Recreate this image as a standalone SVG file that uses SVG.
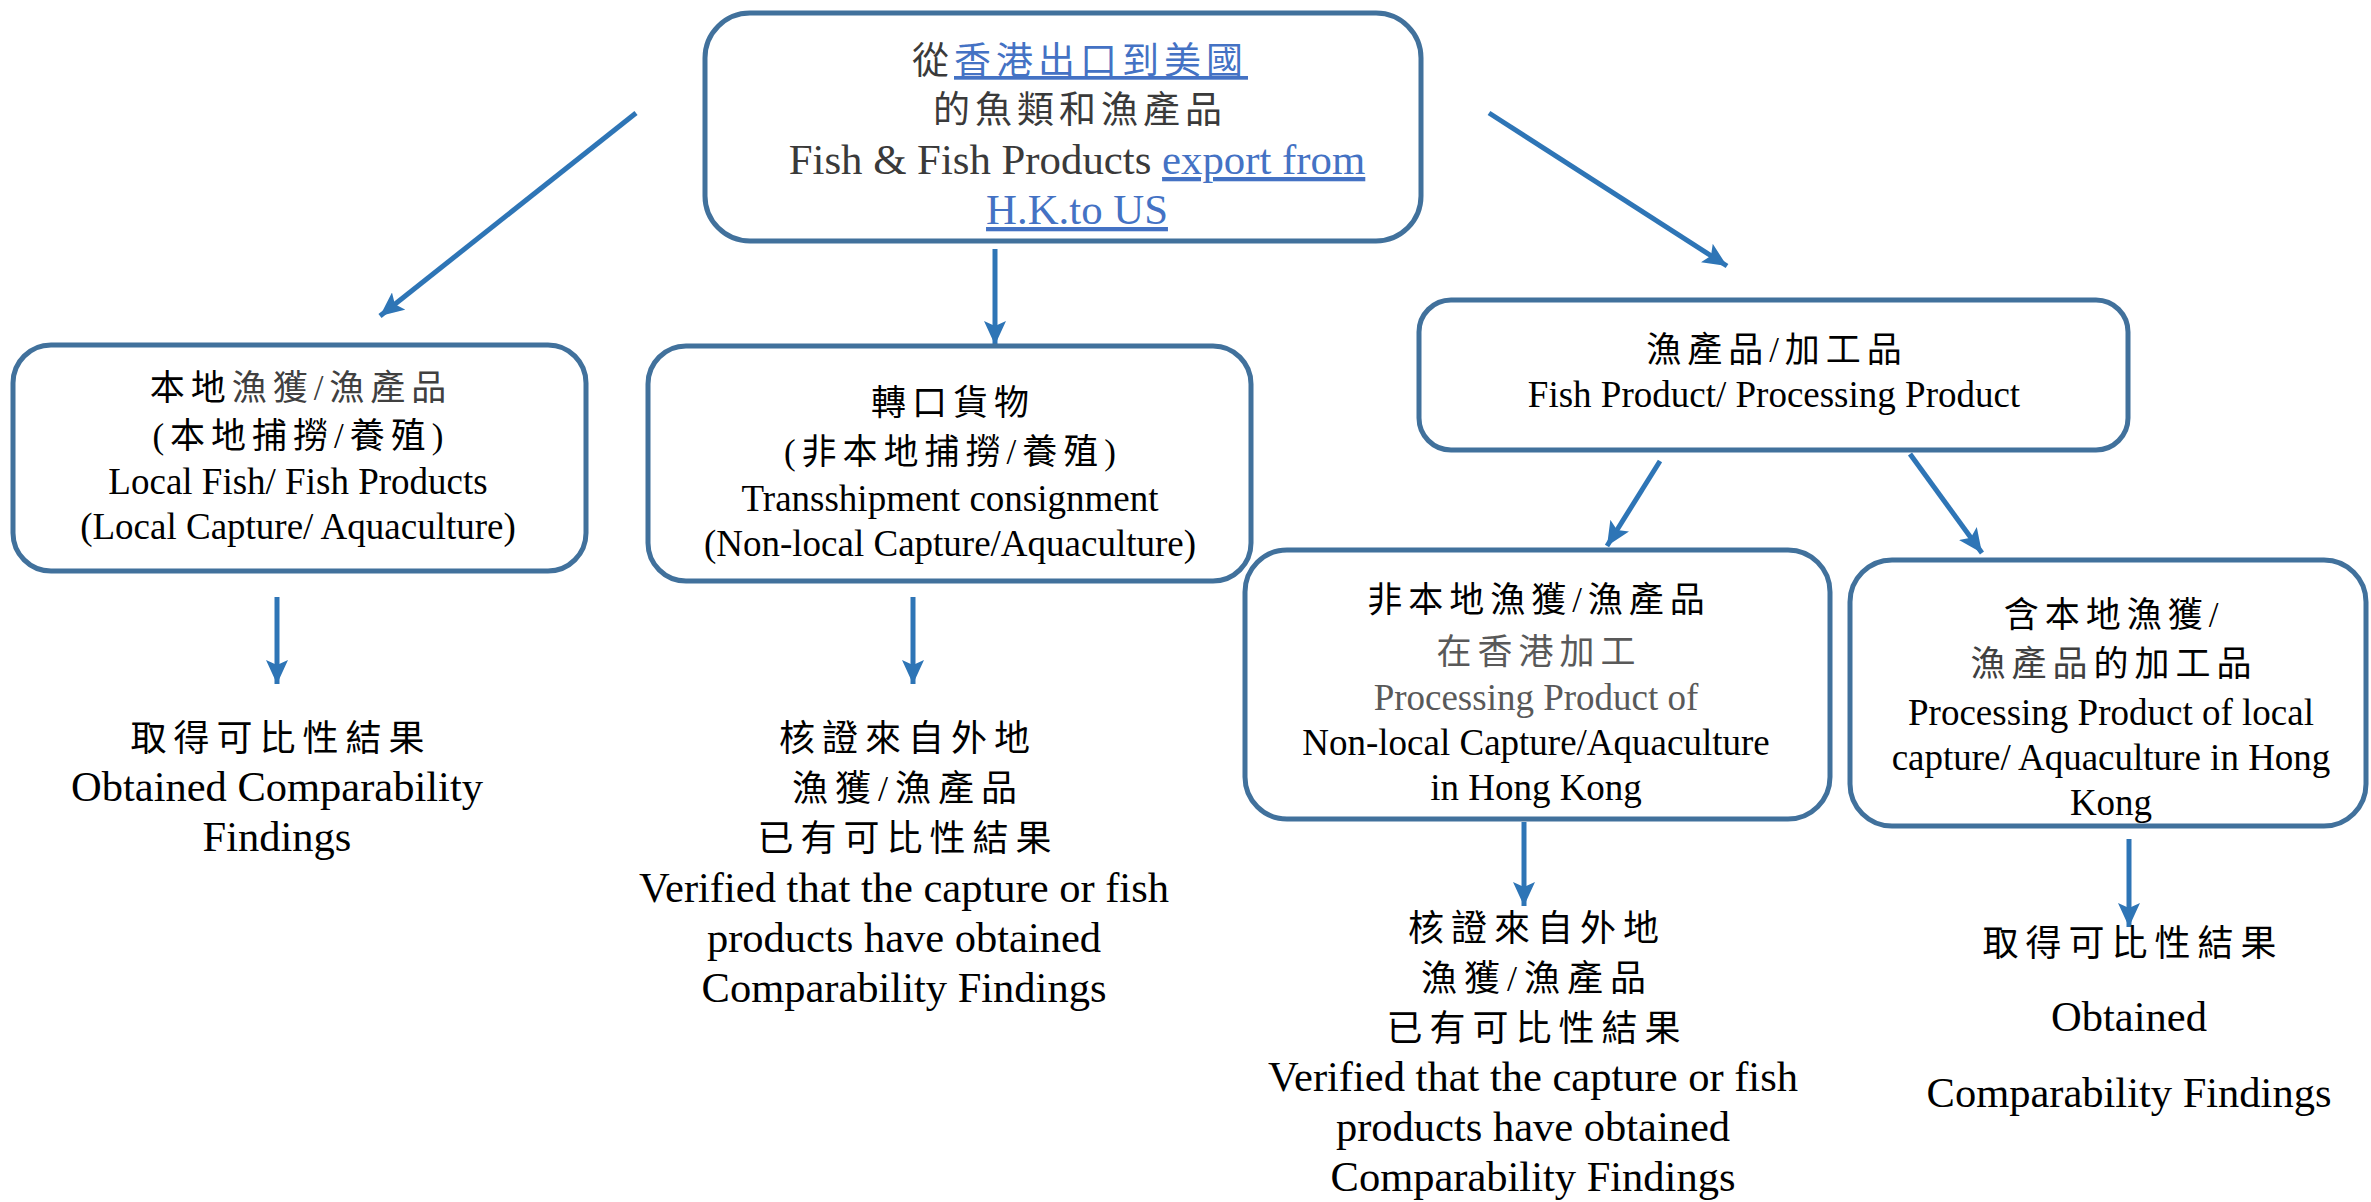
<svg xmlns="http://www.w3.org/2000/svg" width="2371" height="1202" viewBox="0 0 2371 1202">
<style>
.box{fill:#fff;stroke:#41719C;stroke-width:5}
.conn{stroke:#2E75B6;stroke-width:5;fill:none}
.t{font-family:"Liberation Serif","Noto Sans CJK TC","Times New Roman",serif;text-anchor:middle;fill:#000}
.cj{font-size:35px;letter-spacing:6px}
.en{font-size:37px}
.top{font-size:42.8px;fill:#3a3a3a}
.tcj{font-size:37px;letter-spacing:5px;fill:#3a3a3a}
.res{font-size:42.5px}
.rcj{font-size:36px;letter-spacing:7px}
.lnk{fill:#4472C4;text-decoration:underline}
.gr{fill:#595959}
</style>
<defs>
<marker id="ah" markerUnits="userSpaceOnUse" markerWidth="26" markerHeight="22" refX="24" refY="11" orient="auto">
<path d="M0,0 L24,11 L0,22 L5,11 Z" fill="#2E75B6"/>
</marker>
</defs>
<rect width="2371" height="1202" fill="#fff"/>
<g id="connectors">
<line class="conn" x1="636" y1="113" x2="380" y2="316" marker-end="url(#ah)"/>
<line class="conn" x1="995" y1="249" x2="995" y2="345" marker-end="url(#ah)"/>
<line class="conn" x1="1489" y1="113" x2="1727" y2="266" marker-end="url(#ah)"/>
<line class="conn" x1="1660" y1="461" x2="1607" y2="546" marker-end="url(#ah)"/>
<line class="conn" x1="1910" y1="454" x2="1982" y2="553" marker-end="url(#ah)"/>
<line class="conn" x1="277" y1="597" x2="277" y2="684" marker-end="url(#ah)"/>
<line class="conn" x1="913" y1="597" x2="913" y2="684" marker-end="url(#ah)"/>
<line class="conn" x1="1524" y1="822" x2="1524" y2="906" marker-end="url(#ah)"/>
<line class="conn" x1="2129" y1="839" x2="2129" y2="927" marker-end="url(#ah)"/>
</g>
<g id="node-top">
<rect class="box" x="705" y="13" width="716" height="228" rx="45"/>
<text class="t tcj" x="1080" y="74">從<tspan class="lnk">香港出口到美國</tspan></text>
<text class="t tcj" x="1080" y="123">的魚類和漁產品</text>
<text class="t top" x="1077" y="174">Fish &amp; Fish Products <tspan class="lnk">export from</tspan></text>
<text class="t top lnk" x="1077" y="224">H.K.to US</text>
</g>
<g id="node-local">
<rect class="box" x="13" y="345" width="573" height="226" rx="38"/>
<text class="t cj" x="301" y="400">本地<tspan fill="#404040">漁獲/漁產品</tspan></text>
<text class="t cj" x="301" y="448">(本地捕撈/養殖)</text>
<text class="t en" x="298" y="494">Local Fish/ Fish Products</text>
<text class="t en" x="298" y="539">(Local Capture/ Aquaculture)</text>
</g>
<g id="node-transship">
<rect class="box" x="648" y="346" width="603" height="235" rx="38"/>
<text class="t cj" x="953" y="415">轉口貨物</text>
<text class="t cj" x="953" y="464">(非本地捕撈/養殖)</text>
<text class="t en" x="950" y="511">Transshipment consignment</text>
<text class="t en" x="950" y="556">(Non-local Capture/Aquaculture)</text>
</g>
<g id="node-processing">
<rect class="box" x="1419" y="300" width="709" height="150" rx="32"/>
<text class="t cj" x="1777" y="362" fill="#404040">漁產品/加工品</text>
<text class="t en" x="1774" y="407">Fish Product/ Processing Product</text>
</g>
<g id="node-nonlocal-processed">
<rect class="box" x="1245" y="550" width="585" height="269" rx="42"/>
<text class="t cj" x="1539" y="612">非本地漁獲/漁產品</text>
<text class="t cj gr" x="1539" y="664">在香港加工</text>
<text class="t en gr" x="1536" y="710">Processing Product of</text>
<text class="t en" x="1536" y="755">Non-local Capture/Aquaculture</text>
<text class="t en" x="1536" y="800">in Hong Kong</text>
</g>
<g id="node-local-processed">
<rect class="box" x="1850" y="560" width="516" height="266" rx="42"/>
<text class="t cj" x="2114" y="627">含本地漁獲/</text>
<text class="t cj" x="2114" y="676"><tspan fill="#404040">漁產品</tspan>的加工品</text>
<text class="t en" x="2111" y="725">Processing Product of local</text>
<text class="t en" x="2111" y="770">capture/ Aquaculture in Hong</text>
<text class="t en" x="2111" y="815">Kong</text>
</g>
<g id="result-local">
<text class="t rcj" x="281" y="751">取得可比性結果</text>
<text class="t res" x="277" y="801">Obtained Comparability</text>
<text class="t res" x="277" y="851">Findings</text>
</g>
<g id="result-transship">
<text class="t rcj" x="908" y="751">核證來自外地</text>
<text class="t rcj" x="908" y="801">漁獲/漁產品</text>
<text class="t rcj" x="908" y="851">已有可比性結果</text>
<text class="t res" x="904" y="902">Verified that the capture or fish</text>
<text class="t res" x="904" y="952">products have obtained</text>
<text class="t res" x="904" y="1002">Comparability Findings</text>
</g>
<g id="result-nonlocal-processed">
<text class="t rcj" x="1537" y="941">核證來自外地</text>
<text class="t rcj" x="1537" y="991">漁獲/漁產品</text>
<text class="t rcj" x="1537" y="1041">已有可比性結果</text>
<text class="t res" x="1533" y="1091">Verified that the capture or fish</text>
<text class="t res" x="1533" y="1141">products have obtained</text>
<text class="t res" x="1533" y="1191">Comparability Findings</text>
</g>
<g id="result-local-processed">
<text class="t rcj" x="2133" y="956">取得可比性結果</text>
<text class="t res" x="2129" y="1031">Obtained</text>
<text class="t res" x="2129" y="1107">Comparability Findings</text>
</g>
</svg>
